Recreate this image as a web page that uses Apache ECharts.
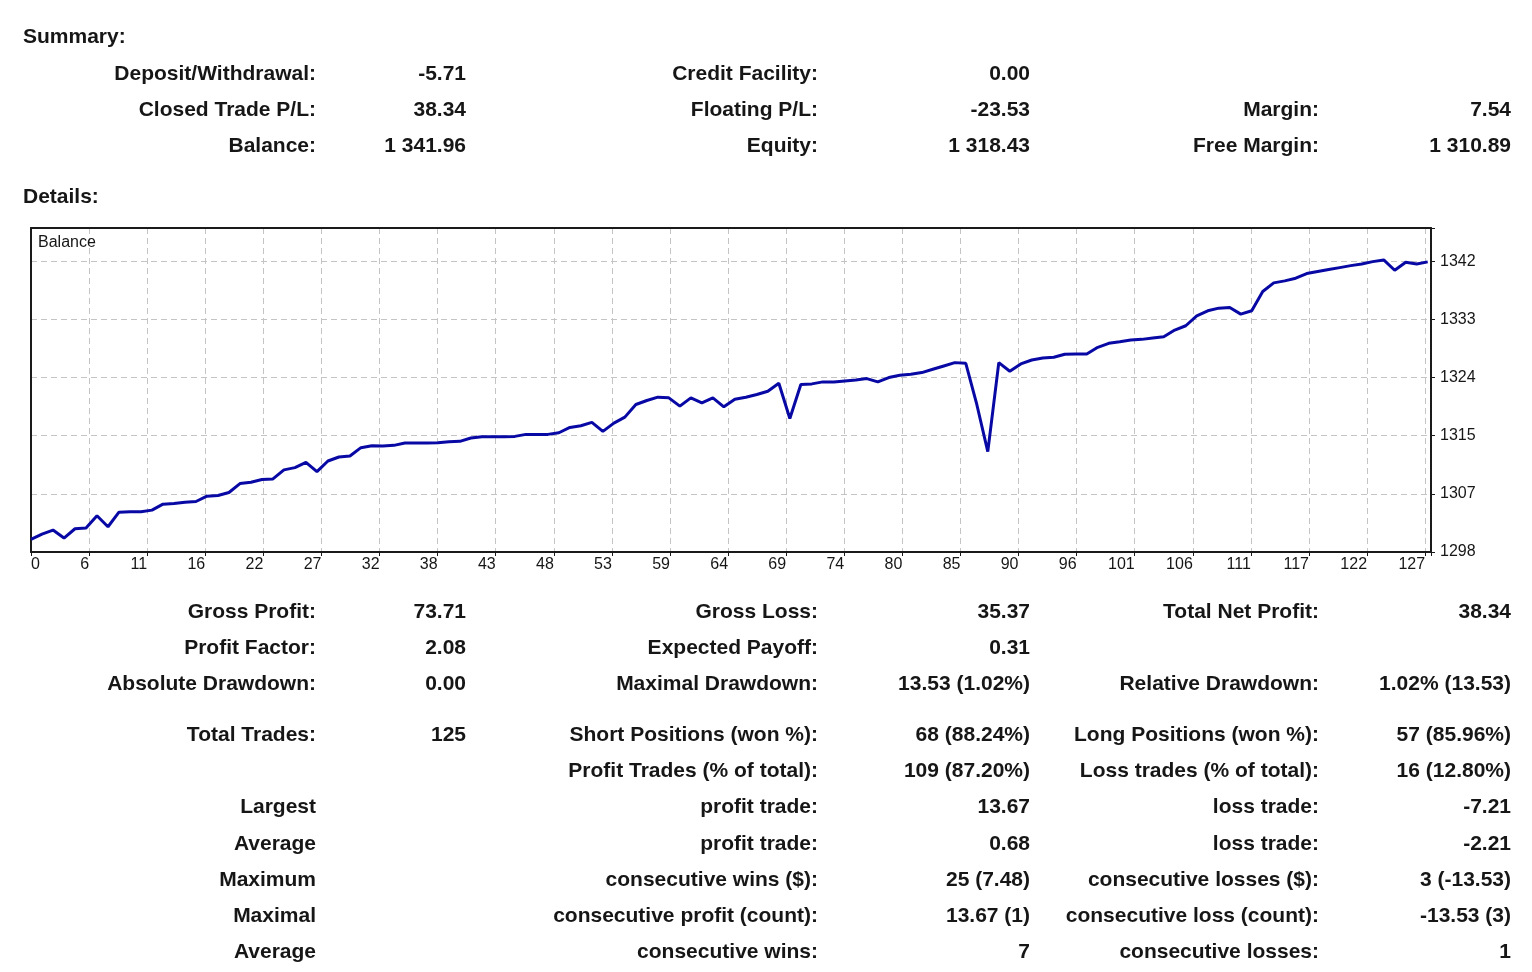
<!DOCTYPE html>
<html>
<head>
<meta charset="utf-8">
<title>Summary / Details</title>
<script src="https://cdn.jsdelivr.net/npm/echarts@6.0.0/dist/echarts.min.js"></script>
<style>
    html, body { margin: 0; padding: 0; background: #fff; }
    #report { width: 1532px; height: 972px; }
</style>
</head>
<body>
<div id="report"></div>
<script>
// balance after each deal
var balance = [
    1300.2, 1301.0, 1301.6, 1300.4, 1301.8, 1301.9, 1303.75, 1302.1, 1304.3, 1304.35,
    1304.35, 1304.6, 1305.5, 1305.6, 1305.8, 1305.9, 1306.7, 1306.8, 1307.25, 1308.6,
    1308.8, 1309.2, 1309.3, 1310.66, 1311.0, 1311.8, 1310.4, 1312.0, 1312.6, 1312.75,
    1314.0, 1314.3, 1314.25, 1314.35, 1314.7, 1314.7, 1314.7, 1314.75, 1314.9, 1314.95,
    1315.45, 1315.65, 1315.65, 1315.65, 1315.7, 1316.0, 1316.0, 1316.0, 1316.25, 1317.05,
    1317.3, 1317.8, 1316.45, 1317.7, 1318.6, 1320.5, 1321.1, 1321.6, 1321.5, 1320.25,
    1321.5, 1320.75, 1321.5, 1320.15, 1321.3, 1321.6, 1322.0, 1322.5, 1323.7, 1318.4,
    1323.5, 1323.6, 1323.9, 1323.9, 1324.05, 1324.2, 1324.4, 1323.9, 1324.55, 1324.9,
    1325.05, 1325.3, 1325.8, 1326.3, 1326.8, 1326.7, 1320.5, 1313.4, 1326.8, 1325.5,
    1326.6, 1327.2, 1327.5, 1327.6, 1328.05, 1328.1, 1328.1, 1329.1, 1329.7, 1329.93,
    1330.2, 1330.3, 1330.5, 1330.7, 1331.7, 1332.35, 1333.85, 1334.6, 1335.0, 1335.1,
    1334.1, 1334.6, 1337.5, 1338.8, 1339.1, 1339.5, 1340.2, 1340.5, 1340.8, 1341.1,
    1341.4, 1341.65, 1342.0, 1342.25, 1340.7, 1341.9, 1341.65, 1341.96
];

var xTickLabels = [0, 6, 11, 16, 22, 27, 32, 38, 43, 48, 53, 59, 64, 69, 74, 80, 85, 90, 96, 101, 106, 111, 117, 122, 127];
var yTickLabels = [1298, 1307, 1315, 1324, 1333, 1342];

var summaryRows = [
    ['Deposit/Withdrawal:', '-5.71', 'Credit Facility:', '0.00', '', ''],
    ['Closed Trade P/L:', '38.34', 'Floating P/L:', '-23.53', 'Margin:', '7.54'],
    ['Balance:', '1 341.96', 'Equity:', '1 318.43', 'Free Margin:', '1 310.89']
];

var detailRows = [
    ['Gross Profit:', '73.71', 'Gross Loss:', '35.37', 'Total Net Profit:', '38.34'],
    ['Profit Factor:', '2.08', 'Expected Payoff:', '0.31', '', ''],
    ['Absolute Drawdown:', '0.00', 'Maximal Drawdown:', '13.53 (1.02%)', 'Relative Drawdown:', '1.02% (13.53)'],
    ['Total Trades:', '125', 'Short Positions (won %):', '68 (88.24%)', 'Long Positions (won %):', '57 (85.96%)'],
    ['', '', 'Profit Trades (% of total):', '109 (87.20%)', 'Loss trades (% of total):', '16 (12.80%)'],
    ['Largest', '', 'profit trade:', '13.67', 'loss trade:', '-7.21'],
    ['Average', '', 'profit trade:', '0.68', 'loss trade:', '-2.21'],
    ['Maximum', '', 'consecutive wins ($):', '25 (7.48)', 'consecutive losses ($):', '3 (-13.53)'],
    ['Maximal', '', 'consecutive profit (count):', '13.67 (1)', 'consecutive loss (count):', '-13.53 (3)'],
    ['Average', '', 'consecutive wins:', '7', 'consecutive losses:', '1']
];

(function () {
    'use strict';

    var FONT = '"Liberation Sans", Arial, sans-serif';
    var TEXT_COLOR = '#161616';
    var FRAME = '#1a1a1a';

    // right edges of the six text columns, and the row centres
    var colRight = [316, 466, 818, 1030, 1319, 1511];
    var summaryY = [74, 110, 146];
    var detailY = [612, 648, 684, 735, 771, 807, 844, 880, 916, 952];

    function boldText(str, x, y, align) {
        return {
            type: 'text',
            silent: true,
            x: x,
            y: y,
            style: {
                text: str,
                fill: TEXT_COLOR,
                font: 'bold 21px ' + FONT,
                align: align || 'right',
                verticalAlign: 'middle'
            }
        };
    }

    function rowsToGraphics(rows, ys) {
        var out = [];
        rows.forEach(function (row, r) {
            row.forEach(function (cell, c) {
                if (cell) {
                    out.push(boldText(cell, colRight[c], ys[r]));
                }
            });
        });
        return out;
    }

    var graphics = [boldText('Summary:', 23, 37, 'left'), boldText('Details:', 23, 197, 'left')]
        .concat(rowsToGraphics(summaryRows, summaryY))
        .concat(rowsToGraphics(detailRows, detailY));

    graphics.push({
        type: 'text',
        silent: true,
        x: 38,
        y: 243,
        z: 10,
        style: {
            text: 'Balance',
            fill: TEXT_COLOR,
            font: '16px ' + FONT,
            verticalAlign: 'middle'
        }
    });

    var chart = echarts.init(document.getElementById('report'), null, {renderer: 'canvas'});

    var dashed = {
        show: true,
        showMinLine: false,
        showMaxLine: false,
        lineStyle: {color: '#c4c4c4', width: 1, type: [6, 4]}
    };
    var frameLine = {show: true, onZero: false, lineStyle: {color: FRAME, width: 2, type: 'solid'}};
    var tick = {show: true, length: 4, inside: false, lineStyle: {color: FRAME, width: 1}};

    // extra axes only draw the top and left edges of the frame
    var xRange = {type: 'value', min: 0, max: 127.3, interval: 5.282};
    var yRange = {type: 'value', min: 1298.3, max: 1347.06, interval: 8.75};

    var option = {
        animation: false,
        backgroundColor: '#ffffff',
        grid: {
            left: 31,
            top: 228,
            width: 1400,
            height: 324,
            show: false,
            containLabel: false,
            outerBoundsMode: 'none'
        },
        xAxis: [
            echarts.util.extend({
                position: 'bottom',
                axisLine: frameLine,
                axisTick: tick,
                splitLine: dashed,
                axisLabel: {
                    show: true,
                    margin: 5,
                    align: 'right',
                    alignMinLabel: 'left',
                    color: TEXT_COLOR,
                    fontFamily: FONT,
                    fontSize: 16,
                    formatter: function (val, idx) {
                        return xTickLabels[idx] === undefined ? '' : String(xTickLabels[idx]);
                    }
                }
            }, xRange),
            echarts.util.extend({
                position: 'top',
                axisLine: frameLine,
                axisTick: {show: false},
                splitLine: {show: false},
                axisLabel: {show: false}
            }, xRange)
        ],
        yAxis: [
            echarts.util.extend({
                position: 'right',
                axisLine: frameLine,
                axisTick: tick,
                splitLine: dashed,
                axisLabel: {
                    show: true,
                    margin: 9,
                    color: TEXT_COLOR,
                    fontFamily: FONT,
                    fontSize: 16,
                    padding: [0, 0, 7, 0],
                    formatter: function (val, idx) {
                        return yTickLabels[idx] === undefined ? '' : String(yTickLabels[idx]);
                    }
                }
            }, yRange),
            echarts.util.extend({
                position: 'left',
                axisLine: frameLine,
                axisTick: {show: false},
                splitLine: {show: false},
                axisLabel: {show: false}
            }, yRange)
        ],
        series: [{
            name: 'Balance',
            type: 'line',
            xAxisIndex: 0,
            yAxisIndex: 0,
            showSymbol: false,
            symbol: 'none',
            lineStyle: {color: '#0808a4', width: 3},
            data: balance.map(function (v, i) { return [i, v]; })
        }],
        graphic: graphics
    };

    chart.setOption(option);
})();
</script>
</body>
</html>
